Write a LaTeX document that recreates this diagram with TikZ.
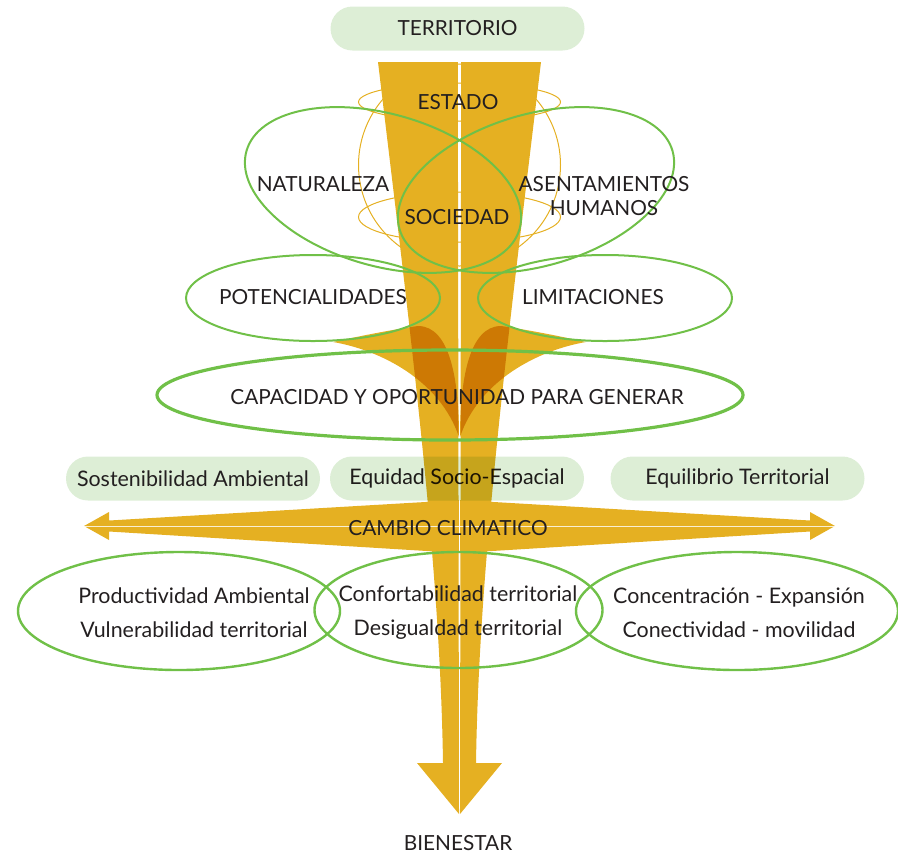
\documentclass[tikz,border=0pt]{standalone}
\usepackage{fontspec}
\setmainfont{Lato}
\usetikzlibrary{shapes.geometric}
\definecolor{ocreTronco}{RGB}{229,176,34}
\definecolor{verdeLinea}{RGB}{112,192,72}
\definecolor{verdeCaja}{RGB}{221,238,214}
\definecolor{textoGris}{RGB}{35,31,32}

% mitades del tronco y alas (coordenadas en px de la imagen)
\newcommand{\troncoIzq}{(378,62) -- (457.8,62) -- (459,814) -- (417,763) -- (443,763) .. controls (440,560) and (410,330) .. (378,62) -- cycle}
\newcommand{\troncoDer}{(541,62) -- (461.2,62) -- (460,814) -- (502,763) -- (476,763) .. controls (479,560) and (509,330) .. (541,62) -- cycle}
\newcommand{\alaIzq}{(459,437) .. controls (459,380) and (450,326) .. (418,326) .. controls (390,330) and (360,336) .. (333,342) .. controls (380,350) and (440,380) .. (459,437) -- cycle}
\newcommand{\alaDer}{(460,437) .. controls (460,380) and (469,326) .. (501,326) .. controls (529,330) and (559,336) .. (586,342) .. controls (539,350) and (479,380) .. (460,437) -- cycle}

\tikzset{
  texto/.style={text=textoGris, inner sep=0pt, font=\fontsize{10.4}{12}\selectfont},
  textoMin/.style={text=textoGris, inner sep=0pt, align=center, font=\fontsize{10.7}{17}\selectfont},
  caja/.style={rectangle, rounded corners=11pt, fill=verdeCaja, minimum width=127pt,
    minimum height=22pt, inner sep=0pt, text=textoGris, font=\fontsize{10.7}{12}\selectfont},
  elipse/.style={draw=verdeLinea, line width=1pt},
  globo/.style={draw=ocreTronco, line width=0.5pt}
}

\begin{document}
\begin{tikzpicture}[x=0.5pt,y=-0.5pt]
  \useasboundingbox (0,0) rectangle (898,852);
  % globo detras del tronco
  \draw[globo] (459.5,165) circle [radius=101];
  \draw[globo] (459.5,102) ellipse [x radius=101, y radius=19];
  \draw[globo] (459.5,217) ellipse [x radius=101, y radius=25];
  % flecha horizontal
  \fill[ocreTronco] (84,526) -- (109,512) -- (109,520.5) -- (459.5,500) -- (810,520.5)
    -- (810,512) -- (835,526) -- (810,540) -- (810,531.5) -- (459.5,553)
    -- (109,531.5) -- (109,540) -- cycle;
  % tronco
  \fill[ocreTronco] \troncoIzq;
  \fill[ocreTronco] \troncoDer;
  \draw[white, line width=0.3pt, opacity=0.8] (84,526) -- (835,526);
  \draw[white, line width=0.6pt] (459.5,500) -- (459.5,553);
  % alas
  \fill[ocreTronco, blend mode=multiply] \alaIzq;
  \fill[ocreTronco, blend mode=multiply] \alaDer;
  % cajas
  \node[caja] (territorio) at (457.5,28.5) {\fontsize{10.4}{12}\selectfont TERRITORIO};
  \node[caja] (sostenibilidad) at (193,478.5) {Sostenibilidad Ambiental};
  \node[caja, blend mode=multiply] (equidad) at (457,478.5) {Equidad Socio-Espacial};
  \node[caja] (equilibrio) at (737.5,478.5) {Equilibrio Territorial};
  % elipses
  \draw[elipse, rotate around={-16:(383,190)}] (383,190) ellipse [x radius=142, y radius=76];
  \draw[elipse, rotate around={16:(536,190)}] (536,190) ellipse [x radius=142, y radius=76];
  \draw[elipse] (313,298) ellipse [x radius=127, y radius=43];
  \draw[elipse] (605,298) ellipse [x radius=127, y radius=43];
  \draw[elipse, line width=1.6pt] (450,395) ellipse [x radius=293, y radius=45];
  \draw[elipse, line width=1.2pt] (179,611) ellipse [x radius=161, y radius=59];
  \draw[elipse, line width=1.2pt] (458.5,610) ellipse [x radius=144, y radius=58];
  \draw[elipse, line width=1.2pt] (737,611) ellipse [x radius=161, y radius=59];
  % textos
  \node[texto] (estado) at (458,102) {ESTADO};
  \node[texto] (naturaleza) at (323,184) {NATURALEZA};
  \node[texto, align=center] (asentamientos) at (604,196) {ASENTAMIENTOS\\HUMANOS};
  \node[texto] (sociedad) at (457,217) {SOCIEDAD};
  \node[texto] (potencialidades) at (313,297) {POTENCIALIDADES};
  \node[texto] (limitaciones) at (593,297) {LIMITACIONES};
  \node[texto] (capacidad) at (457,397) {CAPACIDAD Y OPORTUNIDAD PARA GENERAR};
  \node[texto] (cambio) at (448,528) {CAMBIO CLIMATICO};
  \node[textoMin] (ambiental) at (194,613) {Productividad Ambiental\\Vulnerabilidad territorial};
  \node[textoMin] (socioespacial) at (458,613) {Confortabilidad territorial\\Desigualdad territorial};
  \node[textoMin] (territorial) at (739,613) {Concentración - Expansión\\Conectividad - movilidad};
  \node[texto] (bienestar) at (458,843) {BIENESTAR};
\end{tikzpicture}
\end{document}
